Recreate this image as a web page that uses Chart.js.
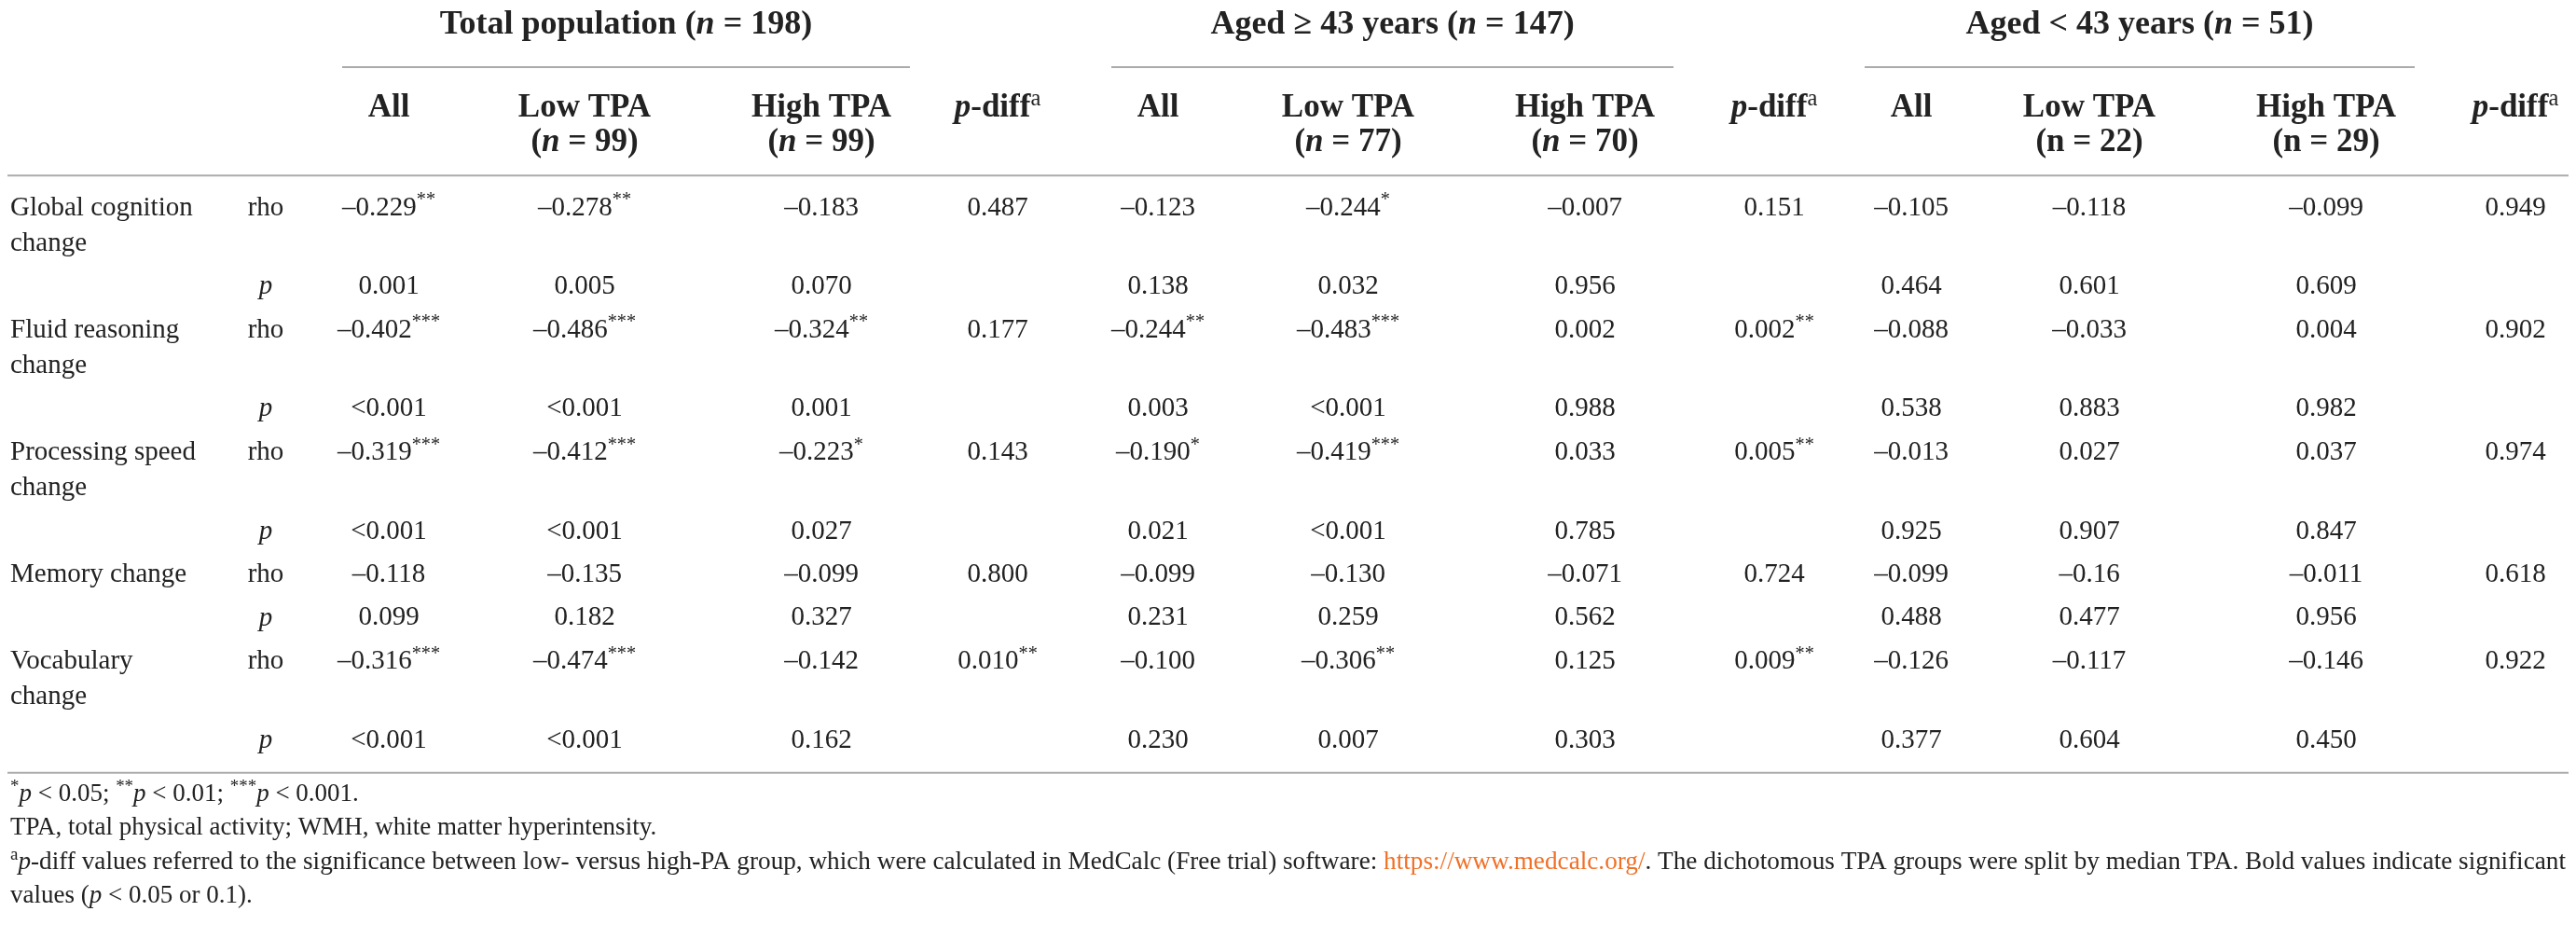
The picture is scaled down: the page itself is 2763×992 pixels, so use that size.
<!DOCTYPE html>
<html>
<head>
<meta charset="utf-8">
<script src="https://cdn.jsdelivr.net/npm/chart.js@4.4.1/dist/chart.umd.min.js"></script>
<style>
  html, body { margin: 0; padding: 0; background: #fff; }
  #wrap { width: 2763px; height: 992px; }
</style>
</head>
<body>
<div id="wrap"><canvas id="table-chart"></canvas></div>
<script>
// table content
const rowLabels = ['Global cognition change', 'Fluid reasoning change', 'Processing speed change', 'Memory change', 'Vocabulary change'];
const statLabels = ['rho', 'p'];
const groupNames = ['Total population', 'Aged ≥ 43 years', 'Aged < 43 years'];
const groupN = [198, 147, 51];
const lowN = [99, 77, 22];
const highN = [99, 70, 29];

// Total population (n = 198)
const totAllRho = ['–0.229**', '–0.402***', '–0.319***', '–0.118', '–0.316***'];
const totAllP = ['0.001', '<0.001', '<0.001', '0.099', '<0.001'];
const totLowRho = ['–0.278**', '–0.486***', '–0.412***', '–0.135', '–0.474***'];
const totLowP = ['0.005', '<0.001', '<0.001', '0.182', '<0.001'];
const totHighRho = ['–0.183', '–0.324**', '–0.223*', '–0.099', '–0.142'];
const totHighP = ['0.070', '0.001', '0.027', '0.327', '0.162'];
const totPdiff = ['0.487', '0.177', '0.143', '0.800', '0.010**'];

// Aged >= 43 years (n = 147)
const oldAllRho = ['–0.123', '–0.244**', '–0.190*', '–0.099', '–0.100'];
const oldAllP = ['0.138', '0.003', '0.021', '0.231', '0.230'];
const oldLowRho = ['–0.244*', '–0.483***', '–0.419***', '–0.130', '–0.306**'];
const oldLowP = ['0.032', '<0.001', '<0.001', '0.259', '0.007'];
const oldHighRho = ['–0.007', '0.002', '0.033', '–0.071', '0.125'];
const oldHighP = ['0.956', '0.988', '0.785', '0.562', '0.303'];
const oldPdiff = ['0.151', '0.002**', '0.005**', '0.724', '0.009**'];

// Aged < 43 years (n = 51)
const youngAllRho = ['–0.105', '–0.088', '–0.013', '–0.099', '–0.126'];
const youngAllP = ['0.464', '0.538', '0.925', '0.488', '0.377'];
const youngLowRho = ['–0.118', '–0.033', '0.027', '–0.16', '–0.117'];
const youngLowP = ['0.601', '0.883', '0.907', '0.477', '0.604'];
const youngHighRho = ['–0.099', '0.004', '0.037', '–0.011', '–0.146'];
const youngHighP = ['0.609', '0.982', '0.847', '0.956', '0.450'];
const youngPdiff = ['0.949', '0.902', '0.974', '0.618', '0.922'];

const columns = [
    [totAllRho, totAllP], [totLowRho, totLowP], [totHighRho, totHighP], [totPdiff, null],
    [oldAllRho, oldAllP], [oldLowRho, oldLowP], [oldHighRho, oldHighP], [oldPdiff, null],
    [youngAllRho, youngAllP], [youngLowRho, youngLowP], [youngHighRho, youngHighP], [youngPdiff, null]
];

// layout (x in table units across the page, y in row units)
const colX = [417, 627, 881, 1070, 1242, 1446, 1700, 1903, 2050, 2241, 2495, 2698];
const labelX = 11, statX = 285, tableLeft = 8, tableRight = 2755;
const labelWrap = 212;
const wrapStep = 0.82;
const FAMILY = '"Liberation Serif", "Times New Roman", serif';
const INK = '#222';
const RULE = '#ababab';
const BODY = 29, HEAD = 36, SUB = 35, NOTE = 27;

// wrap row labels to the label column width
const measureCtx = document.createElement('canvas').getContext('2d');
measureCtx.font = BODY + 'px ' + FAMILY;
const labelLines = rowLabels.map(label => {
    const lines = [];
    let cur = '';
    label.split(' ').forEach(word => {
        const test = cur ? cur + ' ' + word : word;
        if (cur && measureCtx.measureText(test).width > labelWrap) {
            lines.push(cur);
            cur = word;
        } else {
            cur = test;
        }
    });
    lines.push(cur);
    return lines;
});

const rhoY = [], pY = [];
let yAcc = 0;
labelLines.forEach(lines => {
    rhoY.push(yAcc);
    yAcc += 1 + wrapStep * (lines.length - 1);
    pY.push(yAcc);
    yAcc += 1;
});
const lastY = pY[pY.length - 1];

// one invisible point per cell, placed by the chart scales
const cells = [];
columns.forEach((col, c) => {
    col[0].forEach((v, r) => cells.push({ x: colX[c], y: rhoY[r], t: v }));
    if (col[1]) col[1].forEach((v, r) => cells.push({ x: colX[c], y: pY[r], t: v }));
});

function fontOf(s, size) {
    const sz = s.sup ? size * 0.7 : size;
    return (s.i ? 'italic ' : '') + (s.b ? 'bold ' : '') + sz + 'px ' + FAMILY;
}

function drawRich(ctx, segs, x, y, size, align, fitW) {
    let w = 0;
    segs.forEach(s => {
        ctx.font = fontOf(s, size);
        s.w = ctx.measureText(s.t).width;
        w += s.w;
    });
    const k = fitW ? fitW / w : 1;
    ctx.save();
    ctx.translate(x, y);
    ctx.scale(k, 1);
    let cx = align === 'center' ? -w / 2 : 0;
    ctx.textAlign = 'left';
    ctx.textBaseline = 'middle';
    segs.forEach(s => {
        ctx.font = fontOf(s, size);
        ctx.fillStyle = s.color || INK;
        ctx.fillText(s.t, cx, s.sup ? -size * 0.28 : 0);
        cx += s.w;
    });
    ctx.restore();
}

function cellSegs(text) {
    const m = text.match(/^(.*?)(\*+)?$/);
    const segs = [{ t: m[1] }];
    if (m[2]) segs.push({ t: m[2], sup: true });
    return segs;
}

function hline(ctx, x0, x1, y) {
    ctx.save();
    ctx.strokeStyle = RULE;
    ctx.lineWidth = 2;
    ctx.beginPath();
    ctx.moveTo(x0, y);
    ctx.lineTo(x1, y);
    ctx.stroke();
    ctx.restore();
}

const tablePlugin = {
    id: 'tableText',
    afterDatasetsDraw(chart) {
        const ctx = chart.ctx;
        const xs = chart.scales.x, ys = chart.scales.y;
        const px = v => xs.getPixelForValue(v);
        const py = v => ys.getPixelForValue(v);

        // header
        groupNames.forEach((name, g) => {
            const x0 = px(colX[g * 4] - 50), x1 = px(colX[g * 4 + 2] + 95);
            drawRich(ctx, [
                { t: name + ' (', b: true },
                { t: 'n', b: true, i: true },
                { t: ' = ' + groupN[g] + ')', b: true }
            ], (x0 + x1) / 2, py(-4.22), HEAD, 'center');
            hline(ctx, x0, x1, py(-3.25));

            const nIt = g < 2;
            drawRich(ctx, [{ t: 'All', b: true }], px(colX[g * 4]), py(-2.3), SUB, 'center');
            [['Low TPA', lowN[g]], ['High TPA', highN[g]]].forEach(([lab, n], k) => {
                const cx = px(colX[g * 4 + 1 + k]);
                drawRich(ctx, [{ t: lab, b: true }], cx, py(-2.3), SUB, 'center');
                drawRich(ctx, [
                    { t: '(', b: true },
                    { t: 'n', b: true, i: nIt },
                    { t: ' = ' + n + ')', b: true }
                ], cx, py(-1.52), SUB, 'center');
            });
            drawRich(ctx, [
                { t: 'p', b: true, i: true },
                { t: '-diff', b: true },
                { t: 'a', sup: true }
            ], px(colX[g * 4 + 3]), py(-2.3), SUB, 'center');
        });
        hline(ctx, px(tableLeft), px(tableRight), py(-0.75));

        // row labels and stat names
        labelLines.forEach((lines, r) => {
            lines.forEach((ln, k) => {
                drawRich(ctx, [{ t: ln }], px(labelX), py(rhoY[r] + k * wrapStep), BODY, 'left');
            });
            drawRich(ctx, [{ t: statLabels[0] }], px(statX), py(rhoY[r]), BODY, 'center');
            drawRich(ctx, [{ t: statLabels[1], i: true }], px(statX), py(pY[r]), BODY, 'center');
        });

        // cells
        const meta = chart.getDatasetMeta(0);
        meta.data.forEach((pt, i) => {
            drawRich(ctx, cellSegs(cells[i].t), pt.x, pt.y, BODY, 'center');
        });

        const bottom = lastY + 0.75;
        hline(ctx, px(tableLeft), px(tableRight), py(bottom));

        // footnotes
        const step = 0.78;
        const fy = k => py(bottom + 0.5 + k * step);
        drawRich(ctx, [
            { t: '*', sup: true }, { t: 'p', i: true }, { t: ' < 0.05; ' },
            { t: '**', sup: true }, { t: 'p', i: true }, { t: ' < 0.01; ' },
            { t: '***', sup: true }, { t: 'p', i: true }, { t: ' < 0.001.' }
        ], px(labelX), fy(0), NOTE, 'left');
        drawRich(ctx, [{ t: 'TPA, total physical activity; WMH, white matter hyperintensity.' }],
            px(labelX), fy(1), NOTE, 'left');
        drawRich(ctx, [
            { t: 'a', sup: true }, { t: 'p', i: true },
            { t: '-diff values referred to the significance between low- versus high-PA group, which were calculated in MedCalc (Free trial) software: ' },
            { t: 'https://www.medcalc.org/', color: '#f07027' },
            { t: '. The dichotomous TPA groups were split by median TPA. Bold values indicate significant' }
        ], px(labelX), fy(2), NOTE, 'left', px(2752) - px(labelX));
        drawRich(ctx, [{ t: 'values (' }, { t: 'p', i: true }, { t: ' < 0.05 or 0.1).' }],
            px(labelX), fy(3), NOTE, 'left');
    }
};

const ctx = document.getElementById('table-chart').getContext('2d');
const tableChart = new Chart(ctx, {
    type: 'scatter',
    data: {
        datasets: [{
            label: 'cells',
            data: cells,
            pointRadius: 0,
            pointHoverRadius: 0
        }]
    },
    options: {
        responsive: true,
        maintainAspectRatio: false,
        animation: false,
        events: [],
        layout: { padding: 0 },
        plugins: {
            legend: { display: false },
            tooltip: { enabled: false }
        },
        scales: {
            x: { type: 'linear', display: false, min: 0, max: 2763 },
            y: { type: 'linear', display: false, reverse: true, min: -4.8, max: 16.54 }
        }
    },
    plugins: [tablePlugin]
});
</script>
</body>
</html>
